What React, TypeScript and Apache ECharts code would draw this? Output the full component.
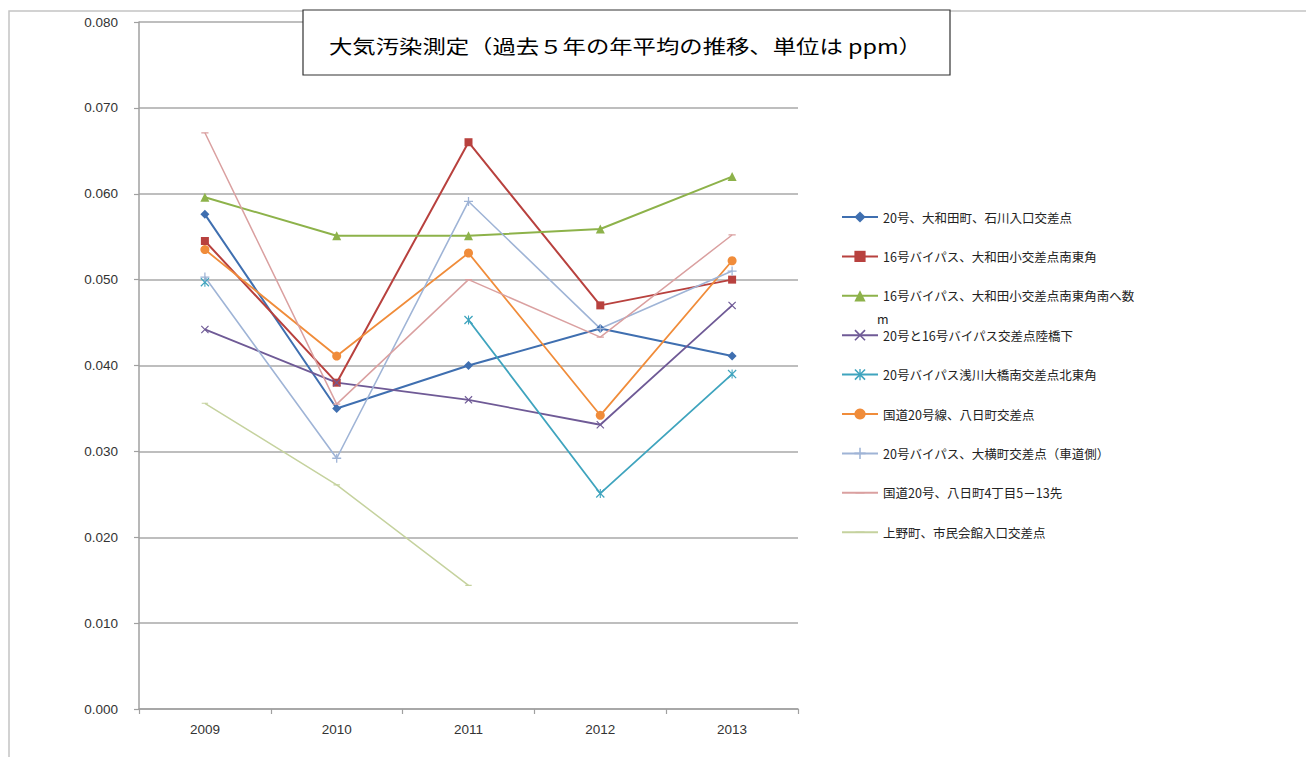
import React, { useEffect, useRef } from "react";
import * as echarts from "echarts";

const years = ["2009", "2010", "2011", "2012", "2013"];
const yTicks = [0, 0.08, 0.01];

const seriesNames = [
  "20号、大和田町、石川入口交差点",
  "16号バイパス、大和田小交差点南東角",
  "16号バイパス、大和田小交差点南東角南へ数m",
  "20号と16号バイパス交差点陸橋下",
  "20号バイパス浅川大橋南交差点北東角",
  "国道20号線、八日町交差点",
  "20号バイパス、大横町交差点（車道側）",
  "国道20号、八日町4丁目5－13先",
  "上野町、市民会館入口交差点",
];

const s1 = [0.0576, 0.035, 0.04, 0.0443, 0.0411];
const s2 = [0.0545, 0.038, 0.066, 0.047, 0.05];
const s3 = [0.0596, 0.0551, 0.0551, 0.0559, 0.062];
const s4 = [0.0442, 0.038, 0.036, 0.0331, 0.047];
const s5 = [0.0497, null, 0.0453, 0.0251, 0.039];
const s6 = [0.0535, 0.0411, 0.0531, 0.0342, 0.0522];
const s7 = [0.0503, 0.0292, 0.0591, 0.0443, 0.051];
const s8 = [0.0671, 0.0355, 0.05, 0.0433, 0.0552];
const s9 = [0.0356, 0.0261, 0.0144, null, null];

const titleText = "大気汚染測定（過去５年の年平均の推移、単位は ppm）";

const colors = [
  "#3f6fb0",
  "#b8413e",
  "#8db24a",
  "#6f5a96",
  "#3fa4be",
  "#f08c3a",
  "#9fb4d6",
  "#daa0a0",
  "#c5d29e",
];

const X_PATH =
  "path://M0,1 L1,0 L5,4 L9,0 L10,1 L6,5 L10,9 L9,10 L5,6 L1,10 L0,9 L4,5 Z";
const STAR_PATH =
  "path://M0,1 L1,0 L5,4 L9,0 L10,1 L6,5 L10,9 L9,10 L5,6 L1,10 L0,9 L4,5 Z M4.4,0 L5.6,0 L5.6,10 L4.4,10 Z";
const PLUS_PATH =
  "path://M4.3,0 H5.7 V4.3 H10 V5.7 H5.7 V10 H4.3 V5.7 H0 V4.3 H4.3 Z";
const DASH_PATH =
  "path://M0,0 L0.01,0 L0,0.01 Z M10,10 L9.99,10 L10,9.99 Z M1,4.3 H9 V5.7 H1 Z";

const symbols = [
  "diamond",
  "rect",
  "triangle",
  X_PATH,
  STAR_PATH,
  "circle",
  PLUS_PATH,
  DASH_PATH,
  DASH_PATH,
];
const symbolSizes = [9, 8, 9, 8, 9, 9, 9, 9, 8];
const lineWidths = [2, 2, 2, 1.8, 1.8, 1.8, 1.6, 1.5, 1.5];
const allData = [s1, s2, s3, s4, s5, s6, s7, s8, s9];

export default function App() {
  const ref = useRef<HTMLDivElement>(null);

  useEffect(() => {
    if (!ref.current) return;
    const chart = echarts.init(ref.current, null, { renderer: "svg" });

    const series = allData.map((d, i) => ({
      name: seriesNames[i],
      type: "line",
      data: d,
      symbol: symbols[i],
      symbolSize: symbolSizes[i],
      showAllSymbol: true,
      connectNulls: false,
      lineStyle: { color: colors[i], width: lineWidths[i] },
      itemStyle: { color: colors[i] },
      emphasis: { disabled: true },
    }));

    chart.setOption({
      animation: false,
      backgroundColor: "#ffffff",
      grid: { left: 139, right: 508, top: 22, bottom: 48 },
      xAxis: {
        type: "category",
        data: years,
        boundaryGap: true,
        axisLine: { show: true, lineStyle: { color: "#a0a0a0", width: 1.5 } },
        axisTick: {
          show: true,
          alignWithLabel: false,
          length: 5,
          lineStyle: { color: "#a0a0a0", width: 1.2 },
        },
        axisLabel: {
          color: "#333",
          fontSize: 13.5,
          fontFamily: "Liberation Sans Narrow, Liberation Sans",
          margin: 13,
        },
        splitLine: { show: false },
      },
      yAxis: {
        type: "value",
        min: yTicks[0],
        max: yTicks[1],
        interval: yTicks[2],
        axisLine: { show: true, lineStyle: { color: "#a0a0a0", width: 1.5 } },
        axisTick: {
          show: true,
          length: 5,
          lineStyle: { color: "#a0a0a0", width: 1.2 },
        },
        axisLabel: {
          color: "#333",
          fontSize: 13.5,
          fontFamily: "Liberation Sans",
          margin: 21,
          formatter: (v: number) => v.toFixed(3),
        },
        splitLine: { show: true, lineStyle: { color: "#a8a8a8", width: 1.5 } },
      },
      legend: {
        orient: "vertical",
        left: 836,
        top: 205,
        itemWidth: 36,
        itemHeight: 14,
        itemGap: 25.4,
        selectedMode: false,
        formatter: (name: string) =>
          name === seriesNames[2] ? name.slice(0, name.length - 1) : name,
        textStyle: {
          color: "#222",
          fontSize: 12.5,
          lineHeight: 14,
          fontFamily: "Noto Sans CJK JP",
        },
        data: seriesNames,
      },
      graphic: [
        {
          type: "rect",
          z: -10,
          silent: true,
          shape: { x: 9, y: 11, width: 1400, height: 800 },
          style: { fill: "none", stroke: "#c4c4c4", lineWidth: 1.5 },
        },
        {
          type: "rect",
          z: 100,
          silent: true,
          shape: { x: 303, y: 10, width: 647, height: 65 },
          style: { fill: "#ffffff", stroke: "#333333", lineWidth: 1.2 },
        },
        {
          type: "text",
          z: 101,
          silent: true,
          x: 329,
          y: 46,
          scaleX: 1.23,
          style: {
            text: titleText,
            fontSize: 19,
            fontFamily: "Noto Sans CJK JP",
            fill: "#000000",
            verticalAlign: "middle",
            align: "left",
          },
        },
        {
          type: "text",
          silent: true,
          x: 877,
          y: 318,
          style: {
            text: "m",
            fontSize: 12.5,
            fontFamily: "Noto Sans CJK JP",
            fill: "#222",
            verticalAlign: "middle",
            align: "left",
          },
        },
      ],
      series,
    });

    return () => chart.dispose();
  }, []);

  return (
    <div
      ref={ref}
      style={{ position: "fixed", left: 0, top: 0, width: 1306, height: 757 }}
    />
  );
}
